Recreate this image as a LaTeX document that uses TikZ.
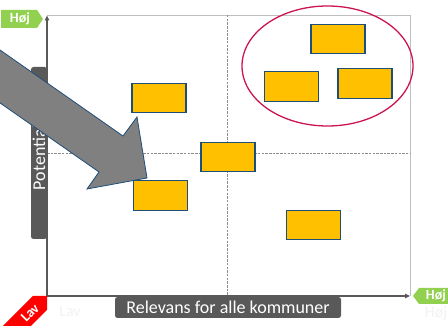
\documentclass[tikz,border=0pt]{standalone}
\usepackage{fontspec}
\setmainfont{Carlito}
\usetikzlibrary{arrows.meta}

\definecolor{cardfill}{HTML}{FFC000}
\definecolor{cardedge}{HTML}{1F4E79}
\definecolor{axisgray}{HTML}{595959}
\definecolor{framegray}{HTML}{BFBFBF}
\definecolor{guidegray}{HTML}{8C8C8C}
\definecolor{taggreen}{HTML}{92D050}
\definecolor{tagred}{HTML}{FF0000}
\definecolor{ringred}{HTML}{CC1450}
\definecolor{bigarrow}{HTML}{808080}
\definecolor{ghost}{HTML}{F2F2F2}

\begin{document}
\begin{tikzpicture}[x=1pt,y=1pt,
  card/.style={draw=cardedge, line width=1.2pt, fill=cardfill,
    minimum width=54pt, minimum height=29.5pt, inner sep=0pt},
  axisline/.style={draw=axisgray, line width=1.4pt,
    -{Triangle[length=5pt,width=4.5pt]}},
  guide/.style={draw=guidegray, line width=0.8pt, dash pattern=on 2.5pt off 1.2pt},
  axislabel/.style={fill=axisgray, text=white, rounded corners=2.5pt,
    inner sep=0pt, font=\fontsize{18}{18}\selectfont},
  tagtext/.style={text=white, inner sep=0pt, font=\bfseries\fontsize{14}{14}\selectfont},
  ghosttext/.style={text=ghost, inner sep=0pt, font=\fontsize{16}{16}\selectfont}]

\useasboundingbox (0,0) rectangle (448,326);
\clip (0,0) rectangle (448,326);

% corner points of the plot area
\coordinate (origin) at (47,30);
\coordinate (ytop)   at (47,311);
\coordinate (xend)   at (410,30);
\coordinate (corner) at (410,311);

% light frame
\draw[framegray, line width=0.8pt] (ytop) -- (corner) -- (xend);

% quadrant guides
\coordinate (vtop) at (227,311);
\coordinate (vbot) at (227,30);
\coordinate (hleft) at (47,173);
\coordinate (hright) at (410,173);
\draw[guide] (vtop) -- (vbot);
\draw[guide] (hleft) -- (hright);

% axis captions
\node[axislabel, minimum width=226pt, minimum height=21pt] (xcap) at (228,18.5)
  {Relevans for alle kommuner};
\node[axislabel, rotate=90, minimum width=172pt, minimum height=16pt] (ycap) at (39,173)
  {Potentiale};

% axes
\draw[axisline] (origin) -- (xend);
\draw[axisline] (origin) -- (47,310.5);

% cards
\node[card] (c1) at (159,228) {};
\node[card] (c2) at (228,169) {};
\node[card] (c3) at (160.5,130.5) {};
\node[card] (c4) at (313.5,101) {};
\node[card] (c5) at (338,287) {};
\node[card] (c6) at (291.5,239.5) {};
\node[card] (c7) at (365,242.5) {};

% highlight ring
\draw[ringred, line width=1.3pt] (327.5,260) ellipse [x radius=85.5, y radius=60];

% big block arrow
\filldraw[fill=bigarrow, draw=cardedge, line width=0.8pt]
  (-30,297) -- (123,190) -- (137,209) -- (147,148) -- (87,137)
  -- (99,154) -- (-30,244) -- cycle;

% ghost labels
\node[ghosttext] (lavghost) at (70,15) {Lav};
\node[ghosttext] (hojghost) at (436,13) {Høj};

% top-left tag
\fill[taggreen] (1,316) -- (37,316) -- (43,307) -- (37,298) -- (1,298) -- cycle;
\node[tagtext] (hojtop) at (20,307) {Høj};

% bottom-right tag
\fill[taggreen] (413,30) -- (419,38) -- (452,38) -- (452,22) -- (419,22) -- cycle;
\node[tagtext] (hojright) at (436,30) {Høj};

% bottom-left tag
\fill[tagred] (47,30) -- (33,30) -- (-10,-13) -- (4,-27) -- (47,16) -- cycle;
\node[tagtext, rotate=45] (lavtag) at (30,13) {Lav};

\end{tikzpicture}
\end{document}
